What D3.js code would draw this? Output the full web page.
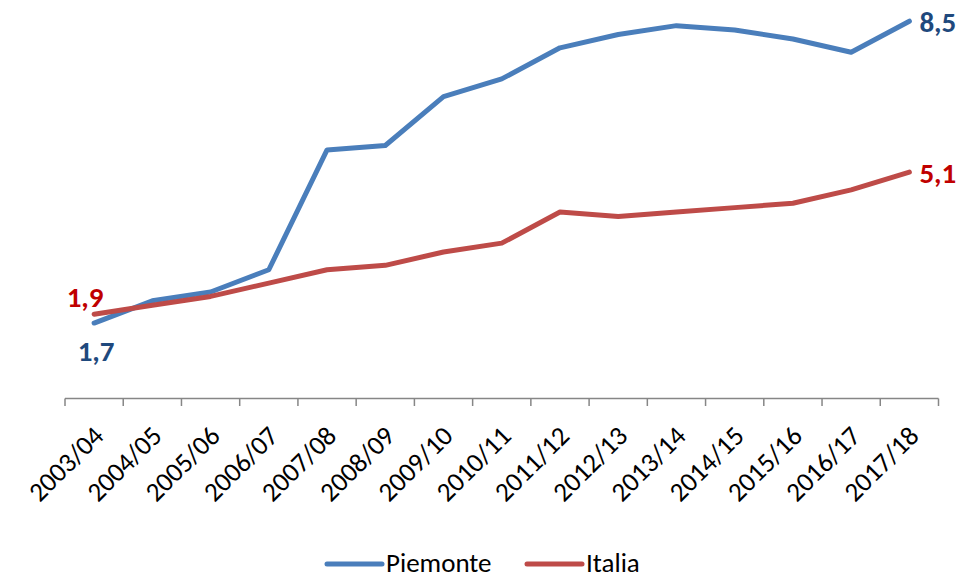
<!DOCTYPE html>
<html>
<head>
<meta charset="utf-8">
<script src="https://cdn.jsdelivr.net/npm/d3@7/dist/d3.min.js"></script>
<style>
  html, body { margin: 0; padding: 0; background: #fff; }
  svg { display: block; font-family: Carlito, Calibri, Lato, sans-serif; }
</style>
</head>
<body>
<svg id="chart" width="965" height="579"></svg>
<script>
const categories = ["2003/04","2004/05","2005/06","2006/07","2007/08","2008/09","2009/10","2010/11","2011/12","2012/13","2013/14","2014/15","2015/16","2016/17","2017/18"];
const piemonte = [1.7, 2.2, 2.4, 2.9, 5.6, 5.7, 6.8, 7.2, 7.9, 8.2, 8.4, 8.3, 8.1, 7.8, 8.5];
const italia   = [1.9, 2.1, 2.3, 2.6, 2.9, 3.0, 3.3, 3.5, 4.2, 4.1, 4.2, 4.3, 4.4, 4.7, 5.1];
const seriesNames = ["Piemonte", "Italia"];
const labelText = { piemonteFirst: "1,7", piemonteLast: "8,5", italiaFirst: "1,9", italiaLast: "5,1" };

const svg = d3.select("#chart");
const x = d3.scaleBand().domain(categories).range([65, 938.5]).padding(0);
const y = d3.scaleLinear().domain([0, 9]).range([398.5, -1]);
const cx = c => x(c) + x.bandwidth() / 2;

const blue = "#4A7EBB", red = "#BE4B48";
const blueLbl = "#1F497D", redLbl = "#C00000";

// axis line + ticks
const axisG = svg.append("g");
axisG.append("line").attr("x1", x.range()[0]).attr("x2", x.range()[1])
  .attr("y1", y(0)).attr("y2", y(0)).attr("stroke", "#868686").attr("stroke-width", 1.5);
const tickPos = categories.map(c => x(c)).concat([x.range()[1]]);
axisG.selectAll("line.tick").data(tickPos).enter().append("line")
  .attr("class", "tick")
  .attr("x1", d => d).attr("x2", d => d)
  .attr("y1", y(0)).attr("y2", y(0) + 7.5)
  .attr("stroke", "#868686").attr("stroke-width", 1.5);

axisG.selectAll("text.cat").data(categories).enter().append("text")
  .attr("class", "cat")
  .attr("transform", d => `translate(${cx(d) + 11},${y(0) + 39}) rotate(-45)`)
  .attr("text-anchor", "end")
  .attr("font-size", 27)
  .attr("fill", "#000")
  .text(d => d);

// lines
const line = d3.line().x((d, i) => cx(categories[i])).y(d => y(d));
[[piemonte, blue], [italia, red]].forEach(([data, col]) => {
  svg.append("path").datum(data).attr("d", line)
    .attr("fill", "none").attr("stroke", col).attr("stroke-width", 5)
    .attr("stroke-linejoin", "round").attr("stroke-linecap", "round");
});

// data labels
const first = categories[0], last = categories[categories.length - 1];
const lbl = (xx, yy, t, col, anchor) => svg.append("text")
  .attr("x", xx).attr("y", yy).attr("text-anchor", anchor)
  .attr("font-size", 29).attr("font-weight", "bold").attr("fill", col).text(t);
lbl(cx(first) + 2, y(piemonte[0]) + 38, labelText.piemonteFirst, blueLbl, "middle");
lbl(cx(first) - 9, y(italia[0]) - 7, labelText.italiaFirst, redLbl, "middle");
lbl(cx(last) + 10, y(piemonte[piemonte.length - 1]) + 11, labelText.piemonteLast, blueLbl, "start");
lbl(cx(last) + 10, y(italia[italia.length - 1]) + 11, labelText.italiaLast, redLbl, "start");

// legend
const legend = [{ name: seriesNames[0], col: blue, x0: 327 }, { name: seriesNames[1], col: red, x0: 527 }];
legend.forEach(l => {
  svg.append("line").attr("x1", l.x0).attr("x2", l.x0 + 55).attr("y1", 564).attr("y2", 564)
    .attr("stroke", l.col).attr("stroke-width", 5).attr("stroke-linecap", "round");
  svg.append("text").attr("x", l.x0 + 59).attr("y", 572).attr("font-size", 27)
    .attr("fill", "#000").text(l.name);
});
</script>
</body>
</html>
